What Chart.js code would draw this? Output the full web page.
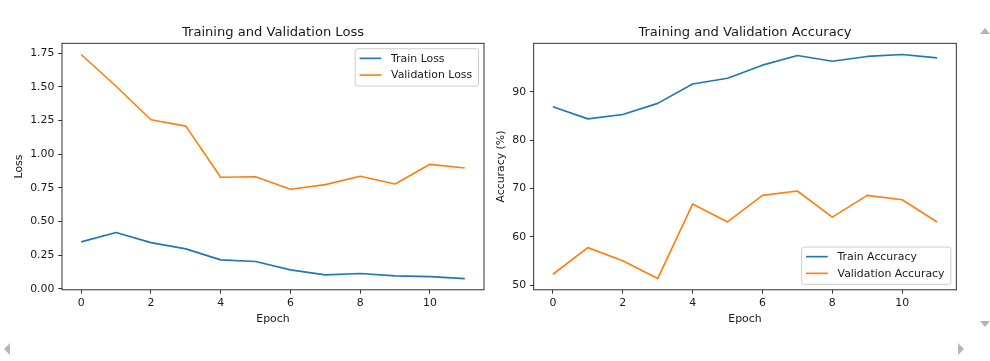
<!DOCTYPE html>
<html>
<head>
<meta charset="utf-8">
<script src="https://cdn.jsdelivr.net/npm/chart.js@4.4.1/dist/chart.umd.min.js"></script>
<style>
  body { margin: 0; background: #fff; }
  #wrap { position: relative; width: 990px; height: 361px; overflow: hidden; }
  #wrap canvas { position: absolute; left: 0; top: 0; }
  .arrow { position: absolute; width: 0; height: 0; }
</style>
</head>
<body>
<div id="wrap">
  <canvas id="lossChart" width="990" height="361"></canvas>
  <canvas id="accChart" width="990" height="361"></canvas>
  <div class="arrow" style="left:980px;top:28px;border-left:5px solid transparent;border-right:5px solid transparent;border-bottom:6px solid #b4b4b4;"></div>
  <div class="arrow" style="left:980px;top:321px;border-left:5px solid transparent;border-right:5px solid transparent;border-top:6px solid #b4b4b4;"></div>
  <div class="arrow" style="left:4px;top:343px;border-top:6px solid transparent;border-bottom:6px solid transparent;border-right:6px solid #b4b4b4;"></div>
  <div class="arrow" style="left:958px;top:343px;border-top:6px solid transparent;border-bottom:6px solid transparent;border-left:6px solid #b4b4b4;"></div>
</div>
<script>
// --- Data ---
const epochs = [0, 1, 2, 3, 4, 5, 6, 7, 8, 9, 10, 11];
const trainLoss = [0.349, 0.418, 0.343, 0.297, 0.215, 0.203, 0.141, 0.104, 0.114, 0.096, 0.091, 0.076];
const valLoss = [1.741, 1.505, 1.256, 1.209, 0.829, 0.833, 0.740, 0.774, 0.836, 0.779, 0.925, 0.898];
const trainAcc = [86.9, 84.4, 85.3, 87.6, 91.6, 92.8, 95.5, 97.5, 96.3, 97.3, 97.7, 97.0];
const valAcc = [52.3, 57.8, 55.1, 51.4, 66.8, 63.1, 68.6, 69.5, 64.1, 68.6, 67.7, 63.1];

const epochTicks = [0, 2, 4, 6, 8, 10];
const lossTicks = [0, 0.25, 0.5, 0.75, 1.0, 1.25, 1.5, 1.75];
const accTicks = [50, 60, 70, 80, 90];

// --- Style ---
const BLUE = '#1f77b4';
const ORANGE = '#ff7f0e';
const INK = '#1a1a1a';
const FS = 10.9;
const W = 990, H = 361;

Chart.defaults.font.family = '"DejaVu Sans", sans-serif';
Chart.defaults.color = INK;

// matplotlib-style 5% margins around the data
const padRange = (arrays) => {
  const all = [].concat(...arrays);
  const lo = Math.min(...all), hi = Math.max(...all);
  const m = (hi - lo) * 0.05;
  return { min: lo - m, max: hi + m };
};

const toTicks = (vals) => vals.map(v => ({ value: v }));

const makeChart = (id, cfg) => {
  const a = cfg.area;
  const tickGrid = {
    drawOnChartArea: false, drawTicks: true, tickLength: 3.8,
    color: INK, lineWidth: 0.9,
  };

  // axes frame, drawn above the lines like matplotlib spines
  const framePlugin = {
    id: 'frame',
    afterDatasetsDraw(chart) {
      const { ctx, chartArea: c } = chart;
      ctx.save();
      ctx.strokeStyle = INK;
      ctx.lineWidth = 0.9;
      ctx.strokeRect(c.left, c.top, c.right - c.left, c.bottom - c.top);
      ctx.restore();
    },
  };

  // legend box in the corner of the axes
  const legendPlugin = {
    id: 'mplLegend',
    afterDraw(chart) {
      const { ctx, chartArea: c } = chart;
      const sets = chart.data.datasets;
      ctx.save();
      ctx.font = `${FS}px "DejaVu Sans"`;
      const tw = Math.max(...sets.map(d => ctx.measureText(d.label).width));
      const pad = 0.4 * FS, hl = 2 * FS, htp = 0.8 * FS, axPad = 0.5 * FS;
      const w = tw + pad * 2 + hl + htp + 3, h = 37.3;
      const x = c.right - axPad - w;
      const y = cfg.legendAt === 'upper' ? c.top + axPad : c.bottom - axPad - h;

      ctx.beginPath();
      ctx.roundRect(x, y, w, h, 2.2);
      ctx.fillStyle = 'rgba(255,255,255,0.8)';
      ctx.fill();
      ctx.strokeStyle = '#cccccc';
      ctx.lineWidth = 1;
      ctx.stroke();

      sets.forEach((d, i) => {
        const ry = y + 9.6 + i * 16.7;
        ctx.beginPath();
        ctx.moveTo(x + pad, ry);
        ctx.lineTo(x + pad + hl, ry);
        ctx.strokeStyle = d.borderColor;
        ctx.lineWidth = 1.64;
        ctx.stroke();
        ctx.fillStyle = INK;
        ctx.textBaseline = 'middle';
        ctx.textAlign = 'left';
        ctx.fillText(d.label, x + pad + hl + htp + 1, ry + 0.5);
      });
      ctx.restore();
    },
  };

  const line = (label, data, color) => ({
    label, data: epochs.map((e, i) => ({ x: e, y: data[i] })),
    borderColor: color, backgroundColor: color, borderWidth: 1.64,
    pointRadius: 0, tension: 0, fill: false, borderJoinStyle: 'round',
  });

  const yr = padRange(cfg.series.map(s => s.data));
  const xr = padRange([epochs]);

  return new Chart(document.getElementById(id), {
    type: 'line',
    data: { datasets: cfg.series.map(s => line(s.label, s.data, s.color)) },
    options: {
      responsive: false,
      animation: false,
      devicePixelRatio: 1,
      events: [],
      layout: { padding: { left: cfg.padLeft, right: W - a.right, top: 0, bottom: 0 } },
      plugins: {
        legend: { display: false },
        tooltip: { enabled: false },
        title: {
          display: true, text: cfg.title, fullSize: false, color: INK,
          font: { size: 13.1, weight: 'normal' },
          padding: { top: 25, bottom: a.top - 25 - 13.1 * 1.2 },
        },
      },
      scales: {
        x: {
          type: 'linear', min: xr.min, max: xr.max,
          afterBuildTicks: s => { s.ticks = toTicks(epochTicks); },
          afterFit: s => { s.height = H - a.bottom; },
          ticks: { font: { size: FS }, color: INK, padding: 3.5, autoSkip: false, maxRotation: 0, callback: v => String(v) },
          grid: tickGrid,
          border: { display: false },
          title: { display: true, text: 'Epoch', color: INK, font: { size: FS }, padding: { top: 0, bottom: 35.3 } },
        },
        y: {
          type: 'linear', min: yr.min, max: yr.max,
          afterBuildTicks: s => { s.ticks = toTicks(cfg.yTicks); },
          afterFit: s => { s.width = a.left - cfg.padLeft; },
          ticks: { font: { size: FS }, color: INK, padding: 3.8, autoSkip: false, callback: cfg.yFormat },
          grid: tickGrid,
          border: { display: false },
          title: { display: true, text: cfg.yLabel, color: INK, font: { size: FS }, padding: { top: cfg.yTitlePad, bottom: 0 } },
        },
      },
    },
    plugins: [framePlugin, legendPlugin],
  });
};

makeChart('lossChart', {
  area: { left: 62, right: 484, top: 43.3, bottom: 289.8 },
  padLeft: 0,
  yTitlePad: 12.8,
  title: 'Training and Validation Loss',
  yLabel: 'Loss',
  yTicks: lossTicks,
  yFormat: v => v.toFixed(2),
  legendAt: 'upper',
  series: [
    { label: 'Train Loss', data: trainLoss, color: BLUE },
    { label: 'Validation Loss', data: valLoss, color: ORANGE },
  ],
});

makeChart('accChart', {
  area: { left: 533.7, right: 956.3, top: 43.3, bottom: 289.8 },
  padLeft: 480,
  yTitlePad: 15,
  title: 'Training and Validation Accuracy',
  yLabel: 'Accuracy (%)',
  yTicks: accTicks,
  yFormat: v => String(v),
  legendAt: 'lower',
  series: [
    { label: 'Train Accuracy', data: trainAcc, color: BLUE },
    { label: 'Validation Accuracy', data: valAcc, color: ORANGE },
  ],
});
</script>
</body>
</html>
